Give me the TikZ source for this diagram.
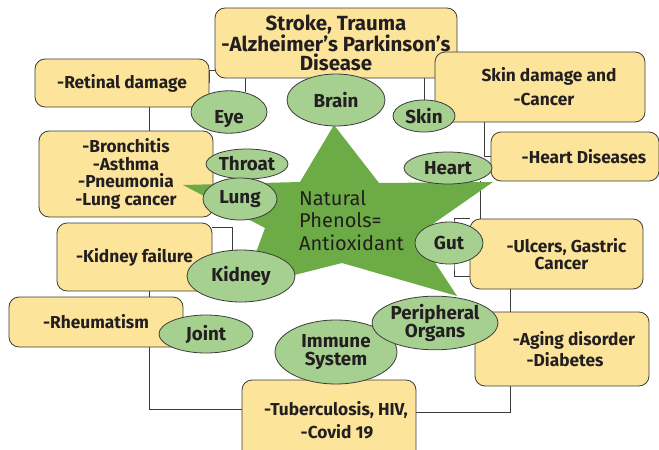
\documentclass[tikz,border=0pt]{standalone}
\usepackage{fontspec}
\setmainfont{Fira Sans}
\usetikzlibrary{shapes.geometric,backgrounds}
\definecolor{boxc}{RGB}{252,228,154}
\definecolor{orgc}{RGB}{166,208,143}
\definecolor{starc}{RGB}{108,171,70}
\definecolor{linec}{RGB}{60,60,60}
\definecolor{txtc}{RGB}{35,31,32}
\tikzset{
  sym/.style={draw=linec, fill=boxc, rounded corners=10pt, line width=0.8pt, align=center, text=txtc, inner sep=0pt, font=\bfseries\fontsize{17.3}{17.5}\selectfont},
  org/.style={ellipse, draw=linec, fill=orgc, line width=0.8pt, align=center, text=txtc, inner sep=0pt, font=\bfseries\fontsize{18.8}{18.5}\selectfont},
  link/.style={draw=linec, line width=0.8pt}
}
\begin{document}
\begin{tikzpicture}[x=1pt,y=-1pt]
\useasboundingbox (0,0) rectangle (659,450);
\clip (0,0) rectangle (659,450);
\node[sym, minimum width=242pt, minimum height=70pt, font=\bfseries\fontsize{20.5}{19.5}\selectfont] (top) at (336,43) {Stroke, Trauma\\-Alzheimer’s Parkinson’s\\Disease};
\node[sym, minimum width=174pt, minimum height=48pt] (retina) at (122,83) {-Retinal damage};
\node[sym, minimum width=210pt, minimum height=70pt, font=\bfseries\fontsize{17.3}{24}\selectfont] (skinbox) at (540,87) {\hspace*{18pt}Skin damage and\\\hspace*{8pt}-Cancer};
\node[sym, minimum width=174pt, minimum height=86pt] (lungbox) at (126,174) {-Bronchitis\\-Asthma\\-Pneumonia\\-Lung cancer};
\node[sym, minimum width=168pt, minimum height=49pt] (heartbox) at (575,156.5) {\hspace*{18pt}-Heart Diseases};
\node[sym, minimum width=155pt, minimum height=68pt] (kfbox) at (134.5,257) {-Kidney failure};
\node[sym, minimum width=173pt, minimum height=70pt] (ulcer) at (556.5,254) {\hspace*{20pt}-Ulcers, Gastric\\\hspace*{10pt}Cancer};
\node[sym, minimum width=174pt, minimum height=50pt] (rheum) at (96,322) {-Rheumatism};
\node[sym, minimum width=174pt, minimum height=74pt, font=\bfseries\fontsize{17.3}{21}\selectfont] (aging) at (562,349) {\hspace*{24pt}-Aging disorder\\\hspace*{6pt}-Diabetes};
\node[sym, minimum width=174pt, minimum height=80pt, font=\bfseries\fontsize{17.3}{23}\selectfont] (tuber) at (329,420) {\hspace*{14pt}-Tuberculosis, HIV,\\\hspace*{16pt}-Covid 19};

\fill[starc] (334,125) -- (379,183) -- (493,182) -- (417,235) -- (457,296) -- (342,263) -- (243,288) -- (265,228) -- (183,185) -- (300,182) -- cycle;
\node[anchor=north west, inner sep=0pt, align=left, text=txtc, font=\fontsize{20}{22.5}\selectfont] (phenol) at (299,190) {Natural\\Phenols=\\Antioxidant};

\node[org, minimum width=98pt, minimum height=52pt] (brain) at (336,100) {Brain};
\node[org, minimum width=76pt, minimum height=40pt, text height=26pt, text depth=4pt] (eye) at (229,112) {Eye};
\node[org, minimum width=62pt, minimum height=32pt] (skin) at (424,116) {Skin};
\node[org, minimum width=82pt, minimum height=30pt] (throat) at (247,164) {Throat};
\node[org, minimum width=74pt, minimum height=42pt] (lung) at (240,199) {Lung};
\node[org, minimum width=88pt, minimum height=32pt] (heart) at (448,168) {Heart};
\node[org, minimum width=68pt, minimum height=42pt] (gut) at (449,243) {Gut};
\node[org, minimum width=108pt, minimum height=52pt] (kidney) at (241,276) {Kidney};
\node[org, minimum width=94pt, minimum height=38pt] (joint) at (206,334) {Joint};
\node[org, minimum width=122pt, minimum height=64pt] (immune) at (336,352) {Immune\\System};
\node[org, minimum width=112pt, minimum height=50pt] (periph) at (435,323) {Peripheral\\Organs};

\begin{scope}[on background layer]
\draw[link] ([yshift=-27pt]top.west) -| (retina.east);
\draw[link] (eye.50) -- (eye.50 |- top.south);
\draw[link] ([xshift=27pt]retina.south) -- ([xshift=27pt]retina.south |- lungbox.north);
\draw[link] (skin.north) -- (skin.north |- top.south);
\draw[link] ([xshift=-56pt]skinbox.south) |- (heartbox.west);
\draw[link] ([xshift=-95pt]heartbox.south) -- ([xshift=-95pt]heartbox.south |- ulcer.north);
\draw[link] (ulcer.north west) -| ([xshift=5pt]gut.north) -- ([xshift=5pt]gut.south) |- ([yshift=-22pt]ulcer.west);
\draw[link] ([xshift=-46pt]ulcer.south) -- ([xshift=-46pt]ulcer.south |- aging.north);
\draw[link] ([xshift=-52pt]aging.south) |- ([yshift=8pt]tuber.east);
\draw[link] ([xshift=53pt]rheum.south) |- ([yshift=11pt]tuber.west);
\draw[link] ([xshift=15pt]kfbox.south) -- ([xshift=15pt]kfbox.south |- rheum.north);
\draw[link] ([yshift=-5pt]kfbox.north east) -| ([xshift=-9pt]kidney.north);
\end{scope}
\end{tikzpicture}
\end{document}
